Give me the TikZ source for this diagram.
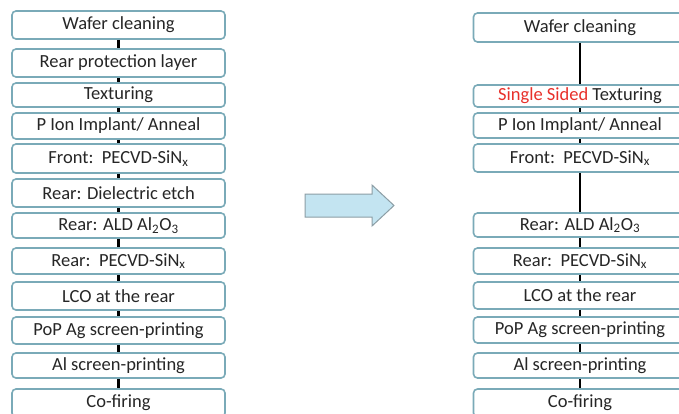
\documentclass[tikz,border=0pt]{standalone}
\usepackage{fontspec}
\setmainfont{Carlito}
\definecolor{boxline}{HTML}{7AAAB8}
\definecolor{boxtext}{HTML}{262626}
\definecolor{arrowfill}{HTML}{C3E4F1}
\definecolor{arrowline}{HTML}{8C9EA5}
\definecolor{newred}{HTML}{E8302A}
\begin{document}
\begin{tikzpicture}[x=1pt,y=-1pt,
  stage/.style={draw=boxline,line width=1.6pt,rounded corners=4pt,fill=white,
    text=boxtext,minimum width=213pt,inner sep=0pt,
    font=\fontsize{18.5}{21}\selectfont},
  link/.style={line width=2.6pt,black}]
\clip (0,0) rectangle (679,413);
\fill[white] (0,0) rectangle (679,413);
\node[stage,minimum height=28pt] (l1) at (118.5,25) {Wafer cleaning};
\node[stage,minimum height=28pt] (l2) at (118.5,63) {Rear protection layer};
\node[stage,minimum height=24pt] (l3) at (118.5,95) {Texturing};
\node[stage,minimum height=26pt] (l4) at (118.5,126) {P Ion Implant/ Anneal};
\node[stage,minimum height=29pt] (l5) at (118.5,158.5) {Front:\ \ PECVD-SiN\textsubscript{x}};
\node[stage,minimum height=28pt] (l6) at (118.5,193) {Rear: Dielectric etch};
\node[stage,minimum height=25pt] (l7) at (118.5,225.5) {Rear: ALD Al\textsubscript{2}O\textsubscript{3}};
\node[stage,minimum height=26pt] (l8) at (118.5,261) {Rear:\ \ PECVD-SiN\textsubscript{x}};
\node[stage,minimum height=28pt] (l9) at (118.5,296) {LCO at the rear};
\node[stage,minimum height=27pt] (l10) at (118.5,330.5) {PoP Ag screen-printing};
\node[stage,minimum height=25pt] (l11) at (118.5,365.5) {Al screen-printing};
\node[stage,minimum height=28pt] (l12) at (118.5,403) {Co-firing};
\foreach \a/\b in {l1/l2,l2/l3,l3/l4,l4/l5,l5/l6,l6/l7,l7/l8,l8/l9,l9/l10,l10/l11,l11/l12}
  \draw[link] (\a.south) -- (\b.north);
\draw[draw=arrowline,fill=arrowfill,line width=1pt,line join=miter]
  (305,194) -- (372,194) -- (372,185) -- (394,205.5) -- (372,226) -- (372,217) -- (305,217) -- cycle;
\node[stage,minimum height=29pt] (r1) at (580,27.5) {Wafer cleaning};
\node[stage,minimum height=22pt] (r2) at (580,96) {\textcolor{newred}{Single Sided} Texturing};
\node[stage,minimum height=25pt] (r3) at (580,125.5) {P Ion Implant/ Anneal};
\node[stage,minimum height=28pt] (r4) at (580,158) {Front:\ \ PECVD-SiN\textsubscript{x}};
\node[stage,minimum height=24pt] (r5) at (580,225) {Rear: ALD Al\textsubscript{2}O\textsubscript{3}};
\node[stage,minimum height=26pt] (r6) at (580,261) {Rear:\ \ PECVD-SiN\textsubscript{x}};
\node[stage,minimum height=27pt] (r7) at (580,295.5) {LCO at the rear};
\node[stage,minimum height=26pt] (r8) at (580,330) {PoP Ag screen-printing};
\node[stage,minimum height=25pt] (r9) at (580,365.5) {Al screen-printing};
\node[stage,minimum height=28pt] (r10) at (580,403) {Co-firing};
\foreach \a/\b in {r1/r2,r2/r3,r3/r4,r4/r5,r5/r6,r6/r7,r7/r8,r8/r9,r9/r10}
  \draw[link] (\a.south) -- (\b.north);
\end{tikzpicture}
\end{document}
